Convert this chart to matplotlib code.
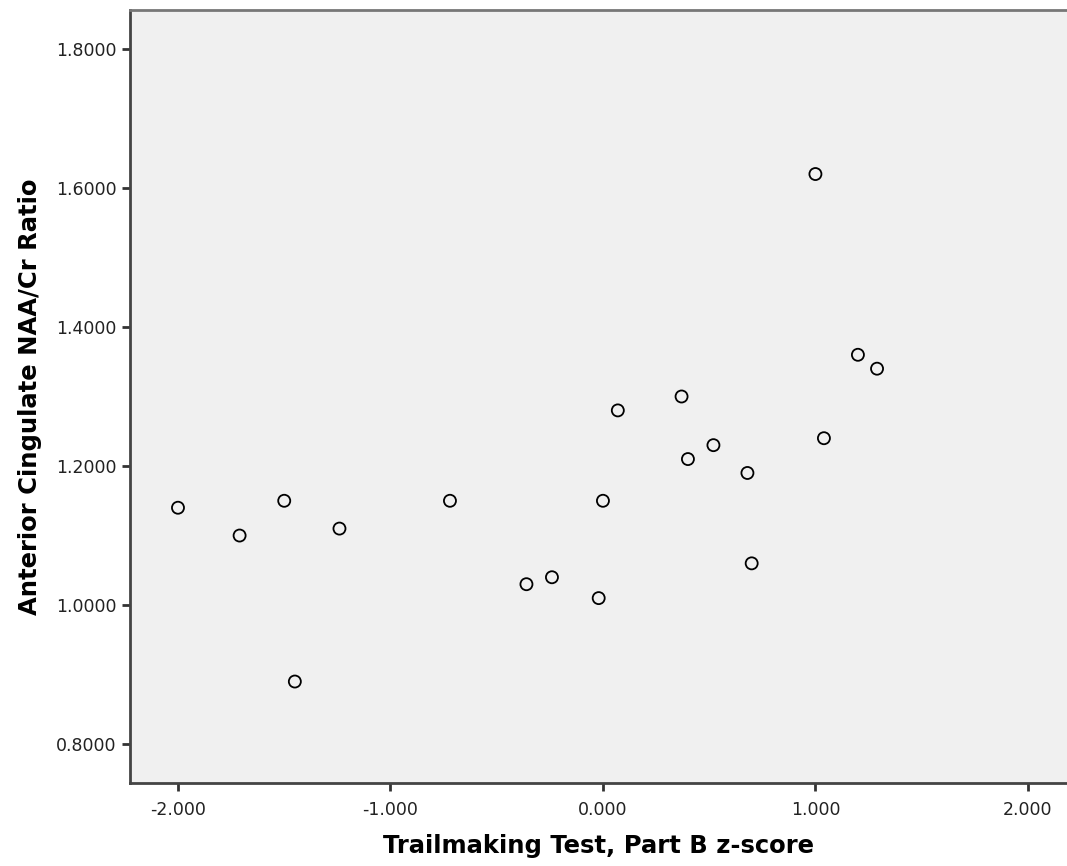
import numpy as np
import matplotlib
matplotlib.use('Agg')
import matplotlib.pyplot as plt

plt.rcParams['font.family'] = ['DejaVu Sans']

# trailmaking test part B z-scores and NAA/Cr ratios
tmt_z = [-2.00, -1.71, -1.50, -1.45, -1.24, -0.72, -0.36, -0.24, -0.02, 0.00,
         0.07, 0.37, 0.40, 0.52, 0.68, 0.70, 1.00, 1.04, 1.20, 1.29]
naa_cr = [1.14, 1.10, 1.15, 0.89, 1.11, 1.15, 1.03, 1.04, 1.01, 1.15,
          1.28, 1.30, 1.21, 1.23, 1.19, 1.06, 1.62, 1.24, 1.36, 1.34]

xticks = [-2.0, -1.0, 0.0, 1.0, 2.0]
yticks = [0.8, 1.0, 1.2, 1.4, 1.6, 1.8]

fig = plt.figure(figsize=(10.67, 8.66), dpi=100)
ax = fig.add_axes([0.1218, 0.0958, 0.8782, 0.8927])
ax.set_facecolor('#f0f0f0')

ax.scatter(tmt_z, naa_cr, s=75, facecolors='none', edgecolors='black', linewidths=1.3)

ax.set_xlim(-2.226, 2.184)
ax.set_ylim(0.744, 1.856)
ax.set_xticks(xticks)
ax.set_xticklabels(['%.3f' % t for t in xticks])
ax.set_yticks(yticks)
ax.set_yticklabels(['%.4f' % t for t in yticks])
ax.tick_params(length=6, width=2, color='#333333', labelsize=12.5, labelcolor='#222222')
ax.tick_params(axis='x', pad=7)

for side in ['left', 'bottom']:
    ax.spines[side].set_linewidth(2)
    ax.spines[side].set_color('#444444')
ax.spines['top'].set_linewidth(2)
ax.spines['top'].set_color('#777777')
ax.spines['right'].set_visible(False)

ax.set_xlabel('Trailmaking Test, Part B z-score', fontsize=17.5, fontweight='bold', labelpad=11)
ax.set_ylabel('Anterior Cingulate NAA/Cr Ratio', fontsize=17.5, fontweight='bold', labelpad=10)

fig.savefig('out.png', dpi=100)
